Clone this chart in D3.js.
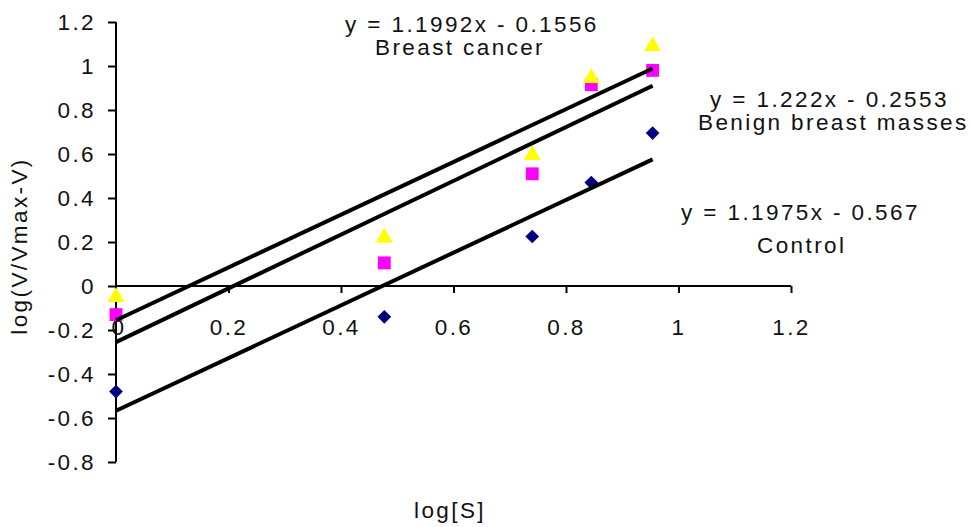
<!DOCTYPE html>
<html lang="en">
<head>
    <meta charset="UTF-8">
    <script src="https://d3js.org/d3.v7.min.js"></script>
    <title>log(V/Vmax-V) vs log[S]</title>
    <style>
        body {
            margin: 0;
            background: #fff;
        }

        text {
            font-family: "Liberation Sans", Arial, sans-serif;
            font-size: 22.5px;
            letter-spacing: 2.4px;
            fill: #111;
        }

        .axis path,
        .axis line {
            stroke: #000;
            stroke-width: 2px;
        }

        .trend {
            stroke: #000;
            stroke-width: 4px;
            fill: none;
        }
    </style>
</head>
<body>
    <script>
        // log[S] values
        const logS = [0, 0.477, 0.74, 0.845, 0.954];

        // log(V/Vmax-V) per group
        const control = [-0.48, -0.14, 0.225, 0.47, 0.695];
        const benign = [-0.13, 0.105, 0.51, 0.915, 0.98];
        const cancer = [-0.05, 0.22, 0.595, 0.945, 1.09];

        // trend line coefficients [slope, intercept]
        const controlFit = [1.1975, -0.567];
        const benignFit = [1.222, -0.2553];
        const cancerFit = [1.1992, -0.1556];

        const xTicks = [0, 0.2, 0.4, 0.6, 0.8, 1, 1.2];
        const yTicks = [-0.8, -0.6, -0.4, -0.2, 0, 0.2, 0.4, 0.6, 0.8, 1, 1.2];

        const width = 971, height = 527;
        const margin = { top: 22, right: 180, bottom: 65, left: 116 };

        // excel style labels, plain hyphen for minus
        const fmt = d => String(+d.toFixed(1));

        const svg = d3.select("body").append("svg")
            .attr("width", width)
            .attr("height", height);

        const x = d3.scaleLinear()
            .domain([0, 1.2])
            .range([margin.left, width - margin.right]);

        const y = d3.scaleLinear()
            .domain([-0.8, 1.2])
            .range([height - margin.bottom, margin.top]);

        // y axis
        const yAxis = svg.append("g")
            .attr("class", "axis")
            .attr("transform", "translate(" + x(0) + ",0)")
            .call(d3.axisLeft(y).tickValues(yTicks).tickSize(8).tickSizeOuter(0).tickPadding(12)
                .tickFormat(fmt));
        yAxis.attr("font-size", null).attr("font-family", null);
        yAxis.select(".domain").attr("d", "M0," + y(1.2) + "V" + y(-0.8));

        // x axis
        const xAxis = svg.append("g")
            .attr("class", "axis")
            .attr("transform", "translate(0," + y(0) + ")")
            .call(d3.axisBottom(x).tickValues(xTicks.slice(1)).tickSize(7).tickSizeOuter(0)
                .tickFormat(fmt));
        xAxis.attr("font-size", null).attr("font-family", null);
        xAxis.selectAll("text").attr("y", 49).attr("dy", 0);
        xAxis.select(".domain").attr("d", "M" + x(0) + ",0H" + x(1.2));
        xAxis.append("text")
            .attr("x", x(0) + 3)
            .attr("y", 49)
            .attr("text-anchor", "middle")
            .text(fmt(xTicks[0]));

        // markers
        const diamond = d3.symbol().type(d3.symbolDiamond2).size(120);
        const square = d3.symbol().type(d3.symbolSquare).size(165);
        const triangle = d3.symbol().type(d3.symbolTriangle).size(125);

        function drawPoints(values, sym, color) {
            svg.append("g").selectAll("path")
                .data(values)
                .join("path")
                .attr("d", sym)
                .attr("fill", color)
                .attr("transform", (d, i) => "translate(" + x(logS[i]) + "," + y(d) + ")");
        }

        drawPoints(control, diamond, "#000080");
        drawPoints(benign, square, "#ff00ff");
        drawPoints(cancer, triangle, "#ffff00");

        // trend lines
        const fitLine = d3.line()
            .x(d => x(d[0]))
            .y(d => y(d[1]));

        [controlFit, benignFit, cancerFit].forEach(f => {
            const ends = [logS[0], logS[logS.length - 1]].map(v => [v, f[0] * v + f[1]]);
            svg.append("path")
                .attr("class", "trend")
                .attr("d", fitLine(ends));
        });

        // equations and labels
        const notes = [
            { text: "y = 1.1992x - 0.1556", x: 345, y: 32 },
            { text: "Breast cancer", x: 375, y: 55 },
            { text: "y = 1.222x - 0.2553", x: 710, y: 107 },
            { text: "Benign breast masses", x: 698, y: 130 },
            { text: "y = 1.1975x - 0.567", x: 681, y: 220 },
            { text: "Control", x: 757, y: 253 }
        ];

        svg.append("g").selectAll("text")
            .data(notes)
            .join("text")
            .attr("x", d => d.x)
            .attr("y", d => d.y)
            .text(d => d.text);

        // axis titles
        svg.append("text")
            .attr("x", 450)
            .attr("y", 518)
            .attr("text-anchor", "middle")
            .text("log[S]");

        svg.append("text")
            .attr("transform", "translate(27,246) rotate(-90)")
            .attr("text-anchor", "middle")
            .text("log(V/Vmax-V)");
    </script>
</body>
</html>
